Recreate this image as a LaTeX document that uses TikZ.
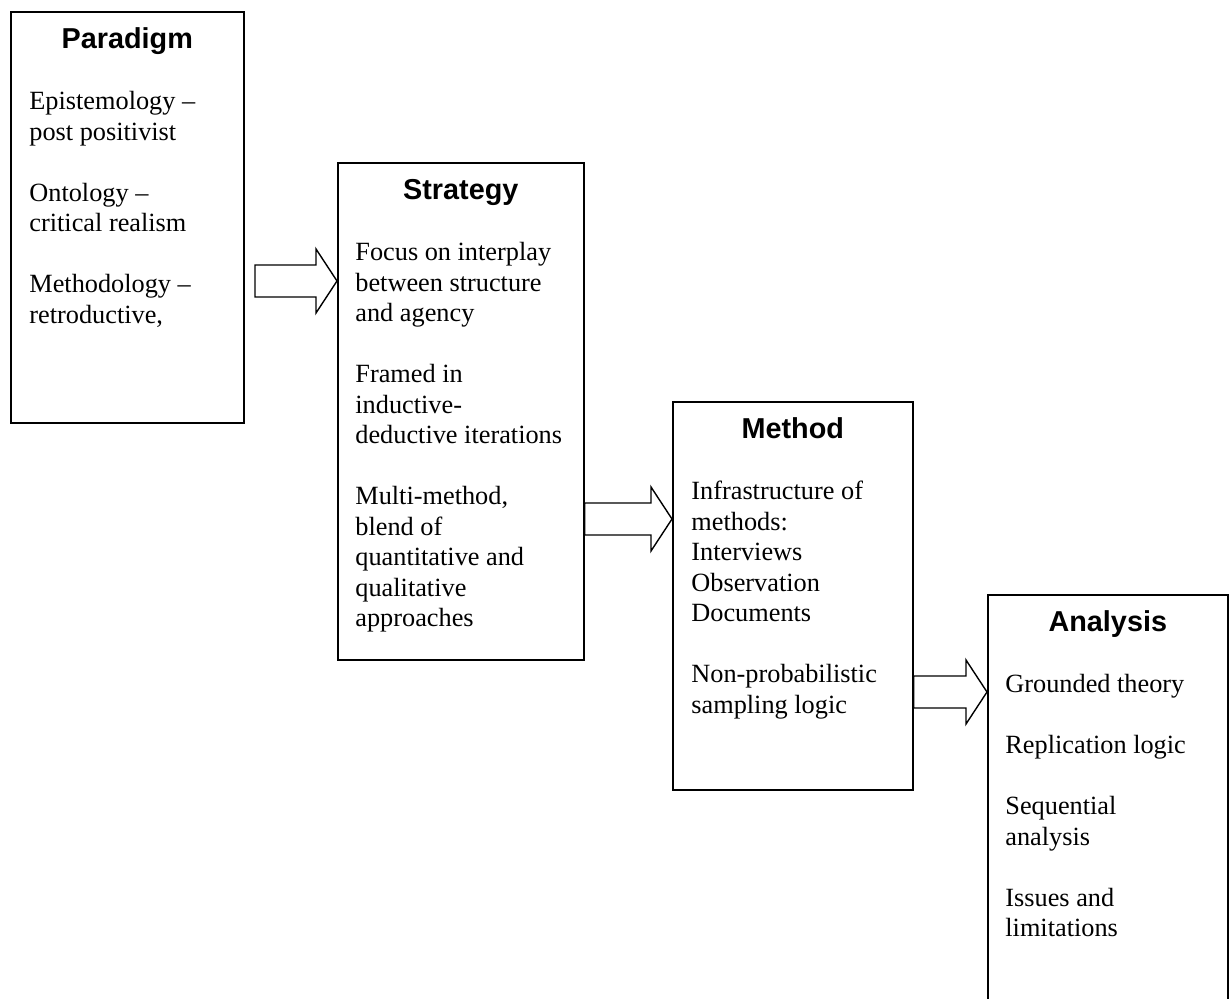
\documentclass[tikz,border=0pt]{standalone}
\usepackage{fontspec}
\setmainfont{Liberation Serif}
\setsansfont{Liberation Sans}
\usetikzlibrary{positioning,calc}
\newcommand*{\blankline}{\\[15.25pt]}
% block arrow from a tail coordinate to the west side of a box
\newcommand*{\blockarrow}[2]{%
  \draw[arrowline] let \p1=(#1), \p2=(#2.west |- #1) in
    (\x1,\y1+8pt) -- (\x2-10.5pt,\y1+8pt) -- (\x2-10.5pt,\y1+16pt) -- (\x2,\y1)
    -- (\x2-10.5pt,\y1-16pt) -- (\x2-10.5pt,\y1-8pt) -- (\x1,\y1-8pt) -- cycle;}

\begin{document}
\begin{tikzpicture}[x=0.5pt, y=-0.5pt]
    \tikzstyle{box}=[draw=black,line width=0.8pt,inner sep=0,anchor=north west]
    \tikzstyle{title}=[font=\sffamily\bfseries\fontsize{14.4}{17}\selectfont,anchor=base,inner sep=0]
    \tikzstyle{body}=[font=\fontsize{13.15}{15.25}\selectfont,align=left,anchor=north west,inner sep=0]
    \tikzstyle{arrowline}=[draw=black,line width=0.7pt,fill=white]
    \useasboundingbox (0,0) rectangle (1232,999);
    \node[box,minimum width=116.5pt,minimum height=205.5pt] (para)  at (10,11)   {};
    \node[box,minimum width=123pt,minimum height=248.5pt]   (strat) at (337,162) {};
    \node[box,minimum width=120pt,minimum height=194pt]     (meth)  at (672,401) {};
    \node[box,minimum width=120pt,minimum height=215pt]     (anal)  at (987,594) {};
    \node[title] (paraT)  at ($(para.north)+(0,38)$)  {Paradigm};
    \node[title] (stratT) at ($(strat.north)+(0,38)$) {Strategy};
    \node[title] (methT)  at ($(meth.north)+(0,38)$)  {Method};
    \node[title] (analT)  at ($(anal.north)+(0,38)$)  {Analysis};
    \node[body] (paraX) at ($(para.north west)+(19,80)$)
        {Epistemology –\\post positivist\blankline Ontology –\\critical realism\blankline
         Methodology –\\retroductive,};
    \node[body] (stratX) at ($(strat.north west)+(18,80)$)
        {Focus on interplay\\between structure\\and agency\blankline Framed in\\inductive-\\
         deductive iterations\blankline Multi-method,\\blend of\\quantitative and\\
         qualitative\\approaches};
    \node[body] (methX) at ($(meth.north west)+(19,80)$)
        {Infrastructure of\\methods:\\Interviews\\Observation\\Documents\blankline
         Non-probabilistic\\sampling logic};
    \node[body] (analX) at ($(anal.north west)+(18,80)$)
        {Grounded theory\blankline Replication logic\blankline Sequential\\analysis\blankline
         Issues and\\limitations};
    \coordinate (a1) at (255,281);
    \coordinate (a2) at (strat.east |- 0,519);
    \coordinate (a3) at (meth.east |- 0,692);
    \blockarrow{a1}{strat}
    \blockarrow{a2}{meth}
    \blockarrow{a3}{anal}
\end{tikzpicture}
\end{document}
